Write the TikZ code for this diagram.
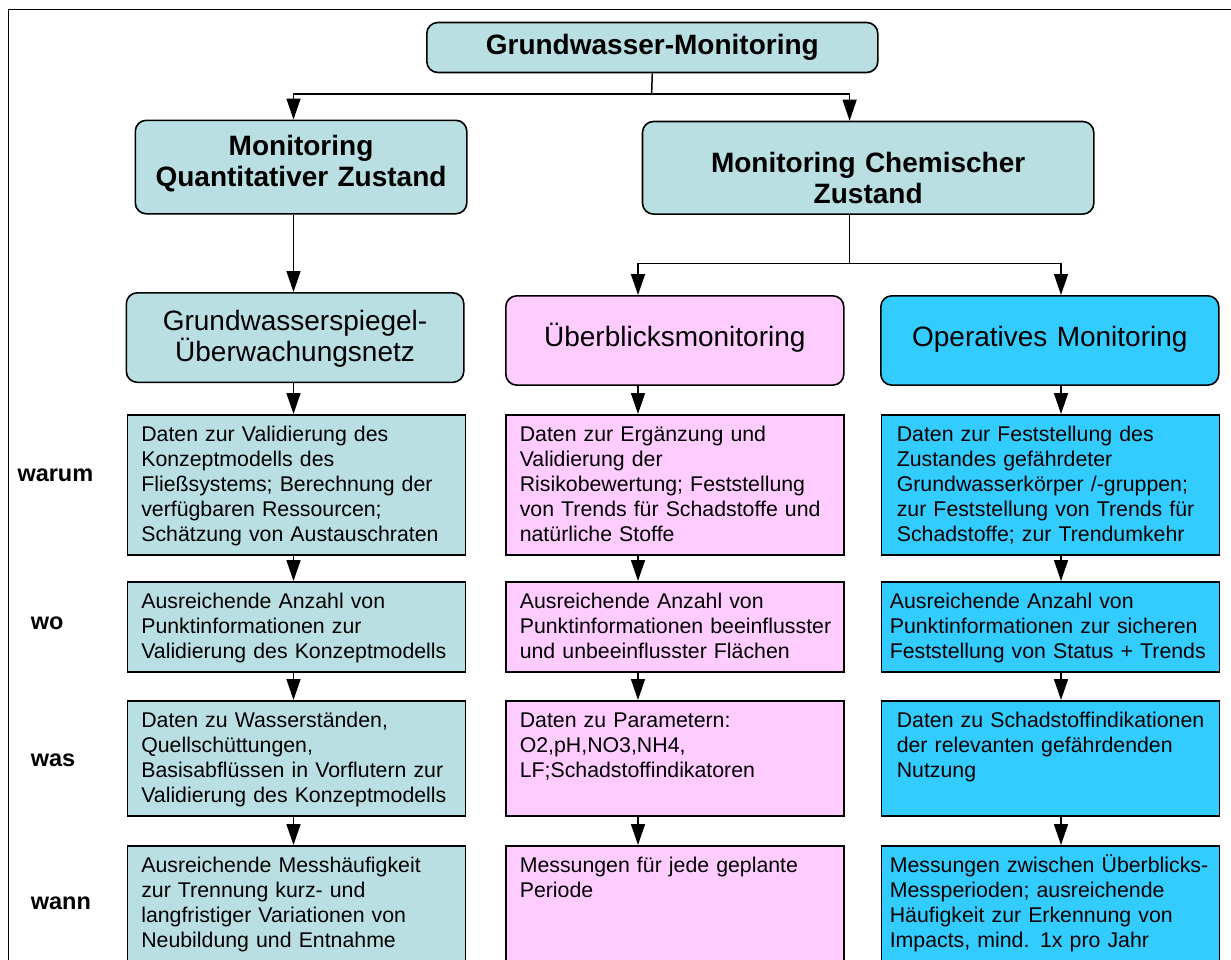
\documentclass[tikz,border=0pt]{standalone}
\usepackage{fontspec}
\setmainfont{Liberation Sans}
\usetikzlibrary{arrows.meta}
\definecolor{tealbox}{RGB}{185,223,226}
\definecolor{pinkbox}{RGB}{255,204,255}
\definecolor{cyanbox}{RGB}{51,204,255}
\newcommand{\bodyfont}{\fontsize{21.3}{25}\selectfont}
\newcommand{\bigfont}{\fontsize{28}{31}\selectfont}
\newcommand{\celllines}[1]{\begin{tabular}[t]{@{}l@{}}#1\end{tabular}}
\begin{document}
\begin{tikzpicture}[x=1pt, y=-1pt,
    head/.style={draw, rounded corners=11pt, line width=1.6pt, anchor=north west, inner sep=0pt, align=center},
    cell/.style={draw, line width=1.6pt, anchor=north west, font=\bodyfont, inner xsep=14pt, inner ysep=0pt, text width=310pt, text height=26.5pt, align=left},
    warumrow/.style={text depth=113.5pt},
    worow/.style={text depth=63.5pt},
    wasrow/.style={text depth=88.5pt},
    wannrow/.style={text depth=103.5pt},
    loosecell/.style={inner xsep=15.5pt, text width=307pt},
    tightcell/.style={inner xsep=8.5pt, text width=321pt},
    rowlabel/.style={anchor=west, inner sep=0pt, font=\fontsize{23.5}{28}\selectfont\bfseries},
    arr/.style={line width=1.5pt, -{Triangle[length=21pt,width=14pt]}}]
    \useasboundingbox (0,0) rectangle (1231,959);
    \clip (0,0) rectangle (1231,959);
    \draw[line width=1.5pt] (8.5,9.5) rectangle (1260,990);

    % top of the tree
    \node[head, fill=tealbox, font=\bigfont\bfseries, text width=451pt, text height=31.6pt, text depth=18.4pt] (title) at (426,21.7) {Grundwasser-Monitoring};
    \node[head, fill=tealbox, font=\bigfont\bfseries, text width=331.5pt, text height=35.5pt, text depth=58pt] (quant) at (134.5,119.5) {Monitoring\\Quantitativer Zustand};
    \node[head, fill=tealbox, font=\bigfont\bfseries, text width=451.3pt, text height=51.3pt, text depth=41.3pt] (chem) at (641.7,120.7) {Monitoring Chemischer\\Zustand};

    % networks
    \node[head, fill=tealbox, font=\bigfont, text width=337.5pt, text height=38pt, text depth=51.5pt] (grund) at (125.5,292) {Grundwasserspiegel-\\Überwachungsnetz};
    \node[head, fill=pinkbox, font=\bigfont, text width=338pt, text height=51pt, text depth=38.3pt] (ueber) at (505,295) {Überblicksmonitoring};
    \node[head, fill=cyanbox, font=\bigfont, text width=338pt, text height=51pt, text depth=38.3pt] (oper) at (880,295) {Operatives Monitoring};

    % row labels
    \node[rowlabel] (warum) at (17.3,475) {warum};
    \node[rowlabel] (wo) at (30.7,623) {wo};
    \node[rowlabel] (was) at (30.7,760) {was};
    \node[rowlabel] (wann) at (30.7,903) {wann};

    % left column
    \node[cell, warumrow, fill=tealbox] (lwarum) at (126.5,414) {\celllines{Daten zur Validierung des\\Konzeptmodells des\\Fließsystems; Berechnung der\\verfügbaren Ressourcen;\\Schätzung von Austauschraten}};
    \node[cell, worow, fill=tealbox] (lwo) at (126.5,581) {\celllines{Ausreichende Anzahl von\\Punktinformationen zur\\Validierung des Konzeptmodells}};
    \node[cell, wasrow, fill=tealbox] (lwas) at (126.5,700) {\celllines{Daten zu Wasserständen,\\Quellschüttungen,\\Basisabflüssen in Vorflutern zur\\Validierung des Konzeptmodells}};
    \node[cell, wannrow, fill=tealbox] (lwann) at (126.5,845) {\celllines{Ausreichende Messhäufigkeit\\zur Trennung kurz- und\\langfristiger Variationen von\\Neubildung und Entnahme}};

    % middle column
    \node[cell, warumrow, fill=pinkbox] (mwarum) at (505,414) {\celllines{Daten zur Ergänzung und\\Validierung der\\Risikobewertung; Feststellung\\von Trends für Schadstoffe und\\natürliche Stoffe}};
    \node[cell, worow, fill=pinkbox] (mwo) at (505,581) {\celllines{Ausreichende Anzahl von\\Punktinformationen beeinflusster\\und unbeeinflusster Flächen}};
    \node[cell, wasrow, fill=pinkbox] (mwas) at (505,700) {\celllines{Daten zu Parametern:\\O2,pH,NO3,NH4,\\LF;Schadstoffindikatoren}};
    \node[cell, wannrow, fill=pinkbox] (mwann) at (505,845) {\celllines{Messungen für jede geplante\\Periode}};

    % right column
    \node[cell, loosecell, warumrow, fill=cyanbox] (rwarum) at (880.5,414) {\celllines{Daten zur Feststellung des\\Zustandes gefährdeter\\Grundwasserkörper /-gruppen;\\zur Feststellung von Trends für\\Schadstoffe; zur Trendumkehr}};
    \node[cell, tightcell, worow, fill=cyanbox] (rwo) at (880.5,581) {\celllines{Ausreichende Anzahl von\\Punktinformationen zur sicheren\\Feststellung von Status + Trends}};
    \node[cell, loosecell, wasrow, fill=cyanbox] (rwas) at (880.5,700) {\celllines{Daten zu Schadstoffindikationen\\der relevanten gefährdenden\\Nutzung}};
    \node[cell, tightcell, wannrow, fill=cyanbox] (rwann) at (880.5,845) {\celllines{Messungen zwischen Überblicks-\\Messperioden; ausreichende\\Häufigkeit zur Erkennung von\\Impacts, mind. 1x pro Jahr}};

    % connectors
    \coordinate (lx) at (293.5,0);
    \coordinate (mx) at (638,0);
    \coordinate (rx) at (1061,0);
    \coordinate (cx) at (849.6,0);
    \coordinate (split1) at (651.6,94);
    \coordinate (split2) at (849.6,263.5);
    \draw[line width=1.5pt] (title.south) -- (split1);
    \draw[arr] (split1) -| (quant.north -| lx);
    \draw[arr] (split1) -| (chem.north -| cx);
    \draw[arr] (quant.south -| lx) -- (grund.north -| lx);
    \draw[line width=1.5pt] (chem.south -| cx) -- (split2);
    \draw[arr] (split2) -| (ueber.north -| mx);
    \draw[arr] (split2) -| (oper.north -| rx);
    \foreach \a/\b in {grund/lwarum, lwarum/lwo, lwo/lwas, lwas/lwann}
        \draw[arr] (\a.south -| lx) -- (\b.north -| lx);
    \foreach \a/\b in {ueber/mwarum, mwarum/mwo, mwo/mwas, mwas/mwann}
        \draw[arr] (\a.south -| mx) -- (\b.north -| mx);
    \foreach \a/\b in {oper/rwarum, rwarum/rwo, rwo/rwas, rwas/rwann}
        \draw[arr] (\a.south -| rx) -- (\b.north -| rx);
\end{tikzpicture}
\end{document}
